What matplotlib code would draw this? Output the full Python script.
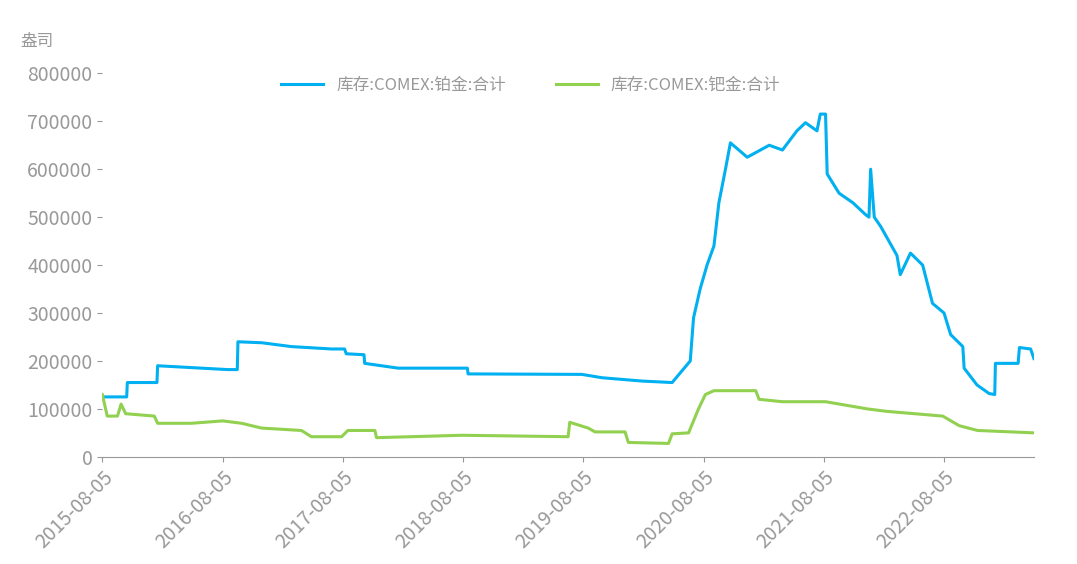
import matplotlib
matplotlib.use("Agg")
import matplotlib.pyplot as plt
import matplotlib.dates as mdates
import pandas as pd

plt.rcParams['font.family'] = ['Noto Sans CJK SC', 'DejaVu Sans']

pt_dates = ["2015-08-05", "2015-10-18", "2015-10-20", "2016-01-18", "2016-01-20", "2016-08-20",
            "2016-09-18", "2016-09-20", "2016-12-01", "2017-03-01", "2017-07-01", "2017-08-10",
            "2017-08-15", "2017-10-08", "2017-10-10", "2018-01-20", "2018-08-18", "2018-08-20",
            "2019-08-01", "2019-10-01", "2020-02-01", "2020-05-01", "2020-06-25", "2020-07-05",
            "2020-07-25", "2020-08-15", "2020-09-05", "2020-09-20", "2020-10-10", "2020-10-25",
            "2020-12-15", "2021-02-20", "2021-04-01", "2021-05-15", "2021-06-10", "2021-07-15",
            "2021-07-25", "2021-08-10", "2021-08-15", "2021-09-20", "2021-11-01", "2021-12-10",
            "2021-12-20", "2021-12-25", "2022-01-05", "2022-01-25", "2022-03-15", "2022-03-25",
            "2022-04-25", "2022-06-01", "2022-07-01", "2022-08-05", "2022-08-25", "2022-10-01",
            "2022-10-05", "2022-11-13", "2022-12-20", "2023-01-06", "2023-01-08", "2023-03-18",
            "2023-03-22", "2023-04-25", "2023-05-05"]
pt_vals = [125000, 125000, 155000, 155000, 190000, 182000,
           182000, 240000, 238000, 230000, 225000, 225000,
           215000, 213000, 195000, 185000, 185000, 173000,
           172000, 165000, 158000, 155000, 200000, 290000,
           350000, 400000, 440000, 530000, 600000, 655000,
           625000, 650000, 640000, 680000, 697000, 680000,
           715000, 715000, 590000, 550000, 530000, 505000,
           500000, 600000, 500000, 480000, 420000, 380000,
           425000, 400000, 320000, 300000, 255000, 230000,
           185000, 150000, 132000, 130000, 195000, 195000,
           228000, 225000, 205000]

pd_dates = ["2015-08-05", "2015-08-20", "2015-09-20", "2015-10-01", "2015-10-15", "2016-01-10",
            "2016-01-20", "2016-05-01", "2016-08-05", "2016-10-01", "2016-12-01", "2017-04-01",
            "2017-05-01", "2017-08-01", "2017-08-20", "2017-11-10", "2017-11-15", "2018-08-01",
            "2019-06-20", "2019-06-25", "2019-08-20", "2019-09-10", "2019-12-10", "2019-12-20",
            "2020-04-20", "2020-05-01", "2020-06-20", "2020-07-20", "2020-08-10", "2020-09-05",
            "2021-01-10", "2021-01-20", "2021-04-01", "2021-08-10", "2021-12-15", "2022-02-10",
            "2022-08-01", "2022-09-20", "2022-11-15", "2023-05-05"]
pd_vals = [130000, 85000, 85000, 110000, 90000, 85000,
           70000, 70000, 75000, 70000, 60000, 55000,
           42000, 42000, 55000, 55000, 40000, 45000,
           42000, 72000, 60000, 52000, 52000, 30000,
           28000, 48000, 50000, 100000, 130000, 138000,
           138000, 120000, 115000, 115000, 100000, 95000,
           85000, 65000, 55000, 50000]

fig, ax = plt.subplots(figsize=(10.77, 5.64), dpi=100)
fig.subplots_adjust(left=0.095, right=0.96, top=0.87, bottom=0.19)
ax.plot(pd.to_datetime(pt_dates), pt_vals, color='#00B0F0', lw=2.2, label='库存:COMEX:铂金:合计')
ax.plot(pd.to_datetime(pd_dates), pd_vals, color='#92D050', lw=2.2, label='库存:COMEX:钯金:合计')

ticks = pd.to_datetime([f"{y}-08-05" for y in range(2015, 2023)])
ax.set_xticks(ticks)
ax.xaxis.set_major_formatter(mdates.DateFormatter('%Y-%m-%d'))
ax.set_xlim(pd.Timestamp("2015-08-05"), pd.Timestamp("2023-05-05"))
ax.set_ylim(0, 800000)
ax.set_yticks(range(0, 800001, 100000))
for lbl in ax.get_xticklabels():
    lbl.set_rotation(45)
    lbl.set_ha('right')
    lbl.set_rotation_mode('anchor')
ax.tick_params(colors='#999999', labelsize=14)
for s in ['top', 'right', 'left']:
    ax.spines[s].set_visible(False)
ax.spines['bottom'].set_color('#999999')
ax.text(-0.088, 1.07, '盎司', transform=ax.transAxes, color='#999999', fontsize=12)
ax.legend(loc='upper center', ncol=2, frameon=False, fontsize=12, labelcolor='#999999',
          bbox_to_anchor=(0.46, 1.03), handlelength=2.5, columnspacing=3)
fig.savefig('out.png')
